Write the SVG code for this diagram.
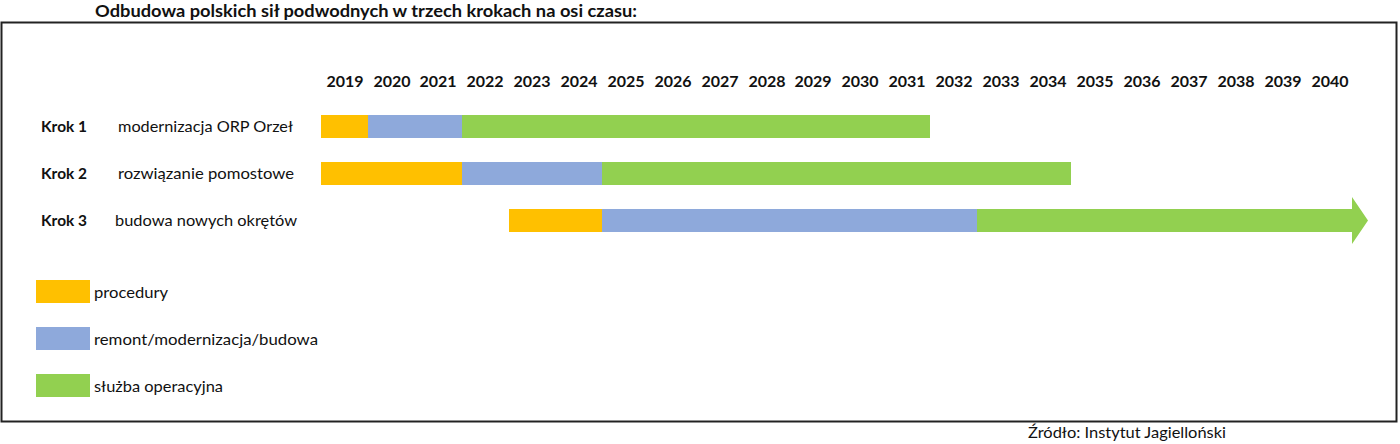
<svg xmlns="http://www.w3.org/2000/svg" width="1400" height="444" viewBox="0 0 1400 444">
<style>
text{font-family:Lato,"Open Sans","Liberation Sans",sans-serif;fill:#111}
.b{font-weight:bold}
.yr{font-weight:bold;font-size:16px;text-anchor:middle}
.lbl{font-size:16px}
.o{fill:#FFC000}.u{fill:#8EA9DB}.g{fill:#92D050}
</style>
<rect width="1400" height="444" fill="#fff"/>
<text x="95" y="17" class="b" font-size="17" textLength="542" lengthAdjust="spacingAndGlyphs">Odbudowa polskich sił podwodnych w trzech krokach na osi czasu:</text>
<rect x="1.5" y="22.5" width="1395" height="399" fill="none" stroke="#222" stroke-width="2"/>
<g id="years">
<text class="yr" x="345" y="87">2019</text><text class="yr" x="392" y="87">2020</text><text class="yr" x="438" y="87">2021</text><text class="yr" x="485" y="87">2022</text><text class="yr" x="532" y="87">2023</text><text class="yr" x="579" y="87">2024</text><text class="yr" x="626" y="87">2025</text><text class="yr" x="673" y="87">2026</text><text class="yr" x="720" y="87">2027</text><text class="yr" x="767" y="87">2028</text><text class="yr" x="813" y="87">2029</text><text class="yr" x="860" y="87">2030</text><text class="yr" x="907" y="87">2031</text><text class="yr" x="954" y="87">2032</text><text class="yr" x="1001" y="87">2033</text><text class="yr" x="1048" y="87">2034</text><text class="yr" x="1095" y="87">2035</text><text class="yr" x="1142" y="87">2036</text><text class="yr" x="1189" y="87">2037</text><text class="yr" x="1236" y="87">2038</text><text class="yr" x="1283" y="87">2039</text><text class="yr" x="1330" y="87">2040</text>
</g>
<g id="krok1">
<text x="41" y="132" class="b lbl" textLength="46" lengthAdjust="spacingAndGlyphs">Krok 1</text>
<text x="118" y="132" class="lbl" textLength="175" lengthAdjust="spacingAndGlyphs">modernizacja ORP Orzeł</text>
<rect class="o" x="321" y="115" width="47" height="23"/>
<rect class="u" x="368" y="115" width="94" height="23"/>
<rect class="g" x="462" y="115" width="468" height="23"/>
</g>
<g id="krok2">
<text x="41" y="179" class="b lbl" textLength="46" lengthAdjust="spacingAndGlyphs">Krok 2</text>
<text x="118" y="179" class="lbl" textLength="176" lengthAdjust="spacingAndGlyphs">rozwiązanie pomostowe</text>
<rect class="o" x="321" y="162" width="141" height="23"/>
<rect class="u" x="462" y="162" width="140" height="23"/>
<rect class="g" x="602" y="162" width="469" height="23"/>
</g>
<g id="krok3">
<text x="41" y="226" class="b lbl" textLength="46" lengthAdjust="spacingAndGlyphs">Krok 3</text>
<text x="115" y="226" class="lbl" textLength="182" lengthAdjust="spacingAndGlyphs">budowa nowych okrętów</text>
<rect class="o" x="509" y="209" width="93" height="23"/>
<rect class="u" x="602" y="209" width="375" height="23"/>
<polygon class="g" points="977,209 1352,209 1352,197 1368,220.5 1352,244 1352,232 977,232"/>
</g>
<g id="legend">
<rect class="o" x="36" y="280" width="54" height="23"/>
<text x="94" y="298" class="lbl" textLength="74" lengthAdjust="spacingAndGlyphs">procedury</text>
<rect class="u" x="36" y="327" width="54" height="23"/>
<text x="94" y="345" class="lbl" textLength="224" lengthAdjust="spacingAndGlyphs">remont/modernizacja/budowa</text>
<rect class="g" x="36" y="374" width="54" height="23"/>
<text x="94" y="392" class="lbl" textLength="129" lengthAdjust="spacingAndGlyphs">służba operacyjna</text>
</g>
<text x="1028" y="438" class="lbl" textLength="198" lengthAdjust="spacingAndGlyphs">Źródło: Instytut Jagielloński</text>
</svg>
